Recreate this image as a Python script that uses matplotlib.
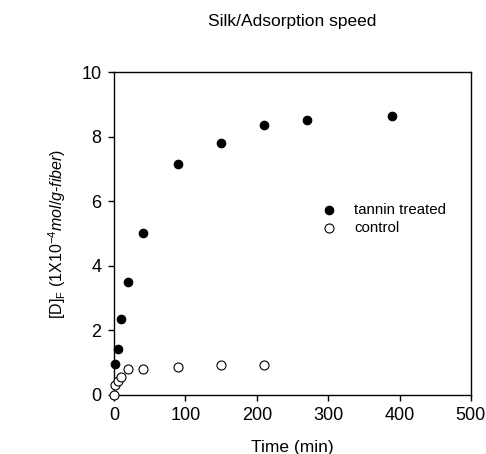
import matplotlib
matplotlib.use('Agg')
import matplotlib.pyplot as plt

plt.rcParams['font.family'] = ['Liberation Sans', 'DejaVu Sans']
plt.rcParams['mathtext.fontset'] = 'custom'
plt.rcParams['mathtext.rm'] = 'Liberation Sans'
plt.rcParams['mathtext.it'] = 'Liberation Sans:italic'

# data
tannin_time = [2, 5, 10, 20, 40, 90, 150, 210, 270, 390]
tannin_df = [0.95, 1.43, 2.35, 3.5, 5.0, 7.15, 7.8, 8.35, 8.5, 8.63]
control_time = [0, 2, 5, 10, 20, 40, 90, 150, 210]
control_df = [0.0, 0.3, 0.42, 0.55, 0.8, 0.8, 0.88, 0.93, 0.92]

x_ticks = [0, 100, 200, 300, 400, 500]
y_ticks = [0, 2, 4, 6, 8, 10]

fig = plt.figure(figsize=(4.86, 4.54), dpi=100)
ax = fig.add_axes([0.2346, 0.130, 0.7344, 0.7114])

ax.scatter(tannin_time, tannin_df, s=38, c='black', edgecolors='black',
           linewidths=0.8, label='tannin treated', zorder=3, clip_on=False)
ax.scatter(control_time, control_df, s=42, facecolors='white', edgecolors='black',
           linewidths=0.8, label='control', zorder=3, clip_on=False)

ax.set_xlim(0, 500)
ax.set_ylim(0, 10)
ax.set_xticks(x_ticks)
ax.set_yticks(y_ticks)
ax.tick_params(direction='out', length=4, width=1, labelsize=13, pad=5)
for sp in ax.spines.values():
    sp.set_linewidth(1)

ax.set_xlabel('Time (min)', fontsize=12.5)
ax.xaxis.set_label_coords(0.5, -0.138)
ax.set_ylabel(r'[D]$_\mathrm{F}$ (1X10$^{\mathrm{-4}}$$\mathit{mol/g}$-$\mathit{fiber}$)',
              fontsize=11.5)
ax.yaxis.set_label_coords(-0.13, 0.5)

ax.legend(loc='upper left', bbox_to_anchor=(0.538, 0.618), frameon=False,
          fontsize=10.8, handletextpad=0.7, labelspacing=0.25, borderpad=0)

fig.text(0.602, 0.952, 'Silk/Adsorption speed', ha='center', va='center', fontsize=12.5)

fig.savefig('out.png', dpi=100)
